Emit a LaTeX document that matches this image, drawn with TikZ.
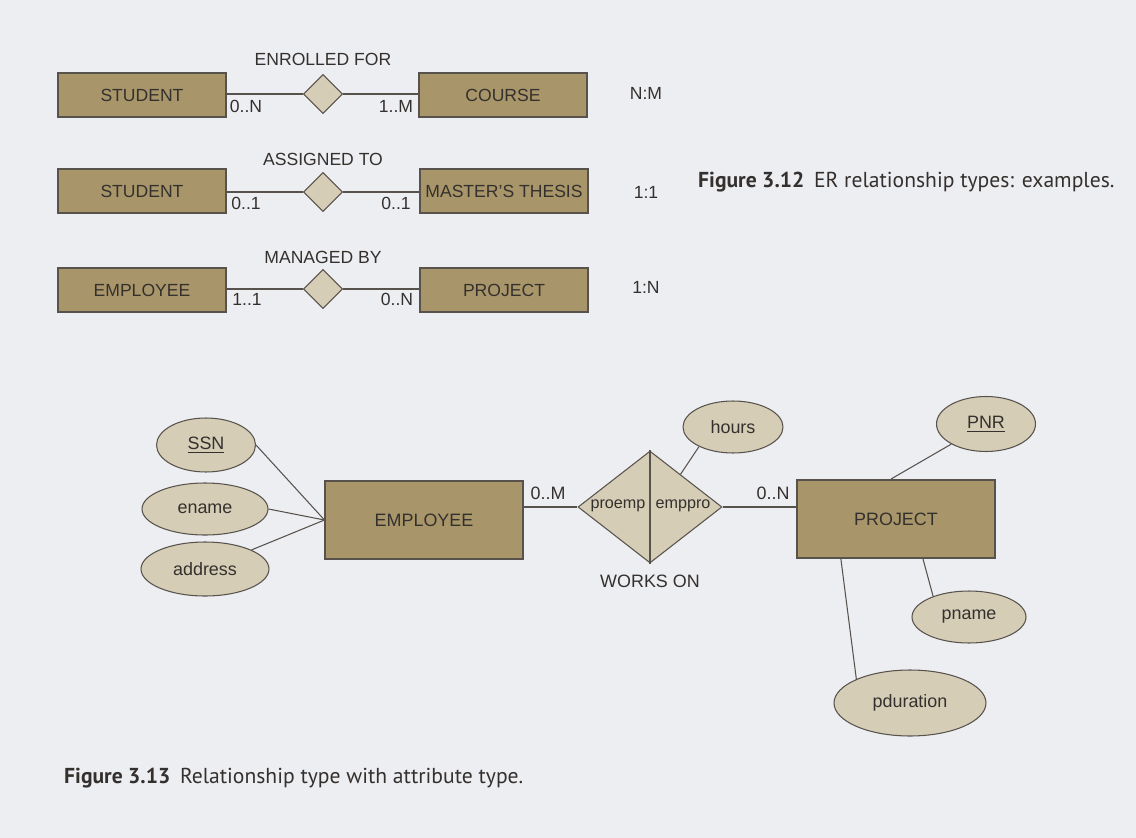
\documentclass[tikz,border=0pt]{standalone}
\usepackage{fontspec}
\setmainfont{Liberation Sans}
\newfontfamily\capfont{PT Sans}
\usepackage{tikz}
\usetikzlibrary{positioning,shapes.geometric}

\definecolor{paper}{RGB}{237,238,242}
\definecolor{entfill}{RGB}{168,150,106}
\definecolor{attfill}{RGB}{214,205,183}
\definecolor{inkline}{RGB}{88,82,76}
\definecolor{inktext}{RGB}{52,48,45}

\begin{document}
\begin{tikzpicture}[x=0.02cm, y=-0.02cm,
  every node/.style={text=inktext, font=\fontsize{10}{12}\selectfont},
  entity/.style={draw=inkline, fill=entfill, line width=0.9pt, minimum width=3.36cm, minimum height=0.88cm, inner sep=0pt},
  bigentity/.style={entity, minimum width=3.95cm, minimum height=1.57cm, font=\fontsize{10.2}{12}\selectfont},
  rel/.style={draw=inkline, fill=attfill, diamond, inner sep=0pt, minimum width=0.78cm, minimum height=0.78cm, line width=0.6pt},
  attr/.style={draw=inkline, fill=attfill, ellipse, inner sep=0pt, line width=0.6pt, font=\fontsize{10.2}{12}\selectfont},
  link/.style={draw=inkline, line width=0.6pt},
  figcaption/.style={anchor=west, text=inktext, font=\capfont\fontsize{12.3}{14}\selectfont}]

  \fill[paper] (0,0) rectangle (1136,838);
  \useasboundingbox (0,0) rectangle (1136,838);

  %% Figure 3.12
  \node[entity] (stud1) at (142,95) {STUDENT};
  \node[rel] (enrolled) at (323,94) {};
  \node[entity] (course) at (503,95) {COURSE};
  \node (enrolledlab) at (323,59) {ENROLLED FOR};
  \draw[link] (stud1.east |- enrolled.west) -- (enrolled.west);
  \draw[link] (enrolled.east) -- (enrolled.east -| course.west);
  \node (c1a) at (246,106) {0..N};
  \node (c1b) at (396,106) {1..M};
  \node (t1) at (646,93) {N:M};

  \node[entity] (stud2) at (142,191) {STUDENT};
  \node[rel] (assigned) at (323,192) {};
  \node[entity] (thesis) at (504,191) {MASTER'S THESIS};
  \node (assignedlab) at (323,159) {ASSIGNED TO};
  \draw[link] (stud2.east |- assigned.west) -- (assigned.west);
  \draw[link] (assigned.east) -- (assigned.east -| thesis.west);
  \node (c2a) at (246,203) {0..1};
  \node (c2b) at (396,203) {0..1};
  \node (t2) at (646,192) {1:1};

  \node[entity] (emp1) at (142,290) {EMPLOYEE};
  \node[rel] (managed) at (323,289) {};
  \node[entity] (proj1) at (504,290) {PROJECT};
  \node (managedlab) at (323,257) {MANAGED BY};
  \draw[link] (emp1.east |- managed.west) -- (managed.west);
  \draw[link] (managed.east) -- (managed.east -| proj1.west);
  \node (c3a) at (247,299) {1..1};
  \node (c3b) at (397,299) {0..N};
  \node (t3) at (646,287) {1:N};

  \node[figcaption] (cap12) at (692,182) {\textbf{Figure 3.12}\hspace{0.45em}ER relationship types: examples.};

  %% Figure 3.13
  \node[bigentity] (emp) at (424,520) {EMPLOYEE};
  \node[bigentity] (proj) at (896,519) {PROJECT};
  \node[rel, minimum width=2.88cm, minimum height=2.24cm] (works) at (650,507) {};
  \draw[link] (works.north) -- (works.south);
  \node[font=\fontsize{9.2}{11}\selectfont] (proemp) at (618,506) {proemp};
  \node[font=\fontsize{9.2}{11}\selectfont] (emppro) at (683,506) {emppro};
  \node[font=\fontsize{10.2}{12}\selectfont] (workslab) at (650,581) {WORKS ON};

  \node[attr, minimum width=1.98cm, minimum height=1.08cm] (ssn) at (206,445) {\underline{SSN}};
  \node[attr, minimum width=2.52cm, minimum height=1.04cm] (ename) at (205,509) {ename};
  \node[attr, minimum width=2.56cm, minimum height=1.08cm] (address) at (205,569) {address};
  \node[attr, minimum width=2.0cm, minimum height=1.04cm] (hours) at (733,427) {hours};
  \node[attr, minimum width=1.98cm, minimum height=1.1cm] (pnr) at (986,424) {\underline{PNR}};
  \node[attr, minimum width=2.28cm, minimum height=1.04cm] (pname) at (969,617) {pname};
  \node[attr, minimum width=3.04cm, minimum height=1.32cm] (pduration) at (910,703) {pduration};

  \draw[link] (ssn.east) -- (emp.west);
  \draw[link] (ename.east) -- (emp.west);
  \draw[link] (address) -- (emp.west);
  \draw[link] (works.west -| emp.east) -- (works.west);
  \draw[link] (works.east) -- (works.east -| proj.west);
  \draw[link] (hours.210) -- (works.47);
  \draw[link] (pnr) -- (proj.97);
  \draw[link] (proj.-56) -- (pname.150);
  \draw[link] (proj.-144) -- (pduration.156);
  \node (c4a) at (548,493) {\fontsize{10.2}{12}\selectfont 0..M};
  \node (c4b) at (773,493) {\fontsize{10.2}{12}\selectfont 0..N};

  \node[figcaption] (cap13) at (58,778) {\textbf{Figure 3.13}\hspace{0.45em}Relationship type with attribute type.};
\end{tikzpicture}
\end{document}
